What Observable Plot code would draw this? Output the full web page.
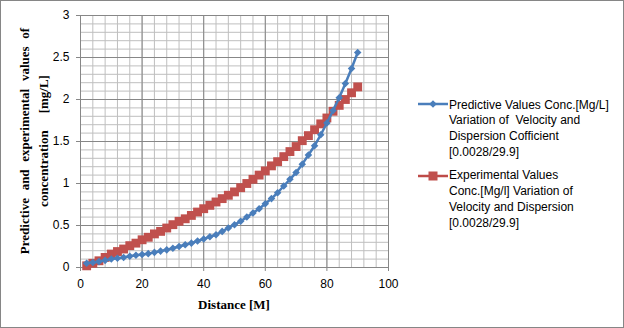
<!DOCTYPE html>
<html>
<head>
<meta charset="utf-8">
<script src="https://cdn.jsdelivr.net/npm/d3@7"></script>
<script src="https://cdn.jsdelivr.net/npm/@observablehq/plot@0.6"></script>
<style>
  html, body { margin: 0; padding: 0; background: #fff; }
  #wrap { position: relative; width: 624px; height: 328px; overflow: hidden; background: #fff; }
  #wrap > svg.chart { position: absolute; left: 0; top: 0; }
  #border { position: absolute; left: 0; top: 0; width: 624px; height: 328px; box-sizing: border-box; border: 1px solid #868686; pointer-events: none; }
  .ytitle { position: absolute; left: 33.5px; top: 141px; width: 260px; transform: translate(-50%, -50%) rotate(-90deg);
    font: bold 13px "Liberation Serif", serif; line-height: 18.5px; text-align: center; white-space: nowrap; color: #000; }
  .xtitle { position: absolute; left: 234px; top: 304px; transform: translate(-50%, -50%);
    font: bold 13px "Liberation Serif", serif; line-height: 15px; white-space: nowrap; color: #000; }
  .leg { position: absolute; left: 449px; font: 12px "Liberation Sans", Arial, sans-serif; line-height: 15.8px; color: #000; white-space: nowrap; }
  #wrap > svg.sw { position: absolute; left: 417px; }
</style>
</head>
<body>
<div id="wrap"></div>
<script>
// ---- data ----
const distance = [2, 4, 6, 8, 10, 12, 14, 16, 18, 20, 22, 24, 26, 28, 30, 32, 34, 36, 38, 40, 42, 44, 46,
  48, 50, 52, 54, 56, 58, 60, 62, 64, 66, 68, 70, 72, 74, 76, 78, 80, 82, 84, 86, 88, 90];
const predicted = [0.05, 0.06, 0.07, 0.085, 0.10, 0.11, 0.12, 0.135, 0.145, 0.155, 0.165, 0.18, 0.195, 0.21, 0.23,
  0.25, 0.27, 0.29, 0.315, 0.34, 0.365, 0.39, 0.43, 0.47, 0.51, 0.55, 0.60, 0.65, 0.70, 0.76,
  0.82, 0.89, 0.97, 1.05, 1.13, 1.23, 1.34, 1.45, 1.58, 1.72, 1.87, 2.02, 2.19, 2.37, 2.56];
const experimental = [0.02, 0.05, 0.08, 0.12, 0.16, 0.19, 0.22, 0.26, 0.29, 0.33, 0.36, 0.40, 0.43, 0.47, 0.51,
  0.55, 0.58, 0.62, 0.66, 0.70, 0.74, 0.78, 0.82, 0.86, 0.90, 0.95, 1.00, 1.05, 1.10, 1.15,
  1.21, 1.26, 1.32, 1.38, 1.44, 1.51, 1.57, 1.64, 1.71, 1.78, 1.86, 1.93, 2.00, 2.08, 2.15];
const xTicks = [0, 20, 40, 60, 80, 100];
const yTicks = [0, 0.5, 1, 1.5, 2, 2.5, 3];
const seriesNames = [
  ["Predictive Values Conc.[Mg/L]", "Variation of  Velocity and", "Dispersion Cofficient", "[0.0028/29.9]"],
  ["Experimental Values", "Conc.[Mg/l] Variation of", "Velocity and Dispersion", "[0.0028/29.9]"]
];
const xTitle = "Distance [M]";
const yTitle = ["Predictive  and  experimental  values  of", "concentration    [mg/L]"];

const blue = "#4A7EBB", red = "#BE4B48";
const predRows = distance.map((d, i) => ({x: d, y: predicted[i]}));
const expRows = distance.map((d, i) => ({x: d, y: experimental[i]}));

const chart = Plot.plot({
  width: 624, height: 328,
  marginLeft: 80, marginRight: 236, marginTop: 15, marginBottom: 61,
  className: "chart",
  style: {fontFamily: "'Liberation Sans', Arial, sans-serif", fontSize: "12px", color: "#000", background: "transparent", overflow: "visible"},
  x: {domain: [0, 100]},
  y: {domain: [0, 3]},
  marks: [
    Plot.gridX({interval: 4, stroke: "#bfbfbf", strokeOpacity: 1}),
    Plot.gridY({interval: 0.1, stroke: "#bfbfbf", strokeOpacity: 1}),
    Plot.gridX(xTicks, {stroke: "#878787", strokeOpacity: 1}),
    Plot.gridY(yTicks, {stroke: "#878787", strokeOpacity: 1}),
    Plot.axisX({ticks: xTicks, tickSize: 4, tickPadding: 8, stroke: "#878787", fill: "#000", label: null, tickFormat: d => String(d)}),
    Plot.axisY({ticks: yTicks, tickSize: 4, tickPadding: 7, stroke: "#878787", fill: "#000", label: null, tickFormat: d => String(d)}),
    Plot.ruleX([0], {stroke: "#878787"}),
    Plot.ruleY([0], {stroke: "#878787"}),
    Plot.line(expRows, {x: "x", y: "y", stroke: red, strokeWidth: 2.5}),
    Plot.dot(expRows, {x: "x", y: "y", symbol: "square", r: 5, fill: "#C0504D", stroke: "none"}),
    Plot.line(predRows, {x: "x", y: "y", stroke: blue, strokeWidth: 2.5}),
    Plot.dot(predRows, {x: "x", y: "y", symbol: "diamond2", r: 3.4, fill: blue, stroke: "none"})
  ]
});
chart.classList.add("chart");

const wrap = document.getElementById("wrap");
wrap.appendChild(chart);

// axis titles
const yt = document.createElement("div");
yt.className = "ytitle";
yt.innerHTML = `<div style="word-spacing:0.6px">${yTitle[0]}</div><div style="word-spacing:1px">${yTitle[1]}</div>`;
yt.style.whiteSpace = "pre";
wrap.appendChild(yt);

const xt = document.createElement("div");
xt.className = "xtitle";
xt.textContent = xTitle;
wrap.appendChild(xt);

// legend
const legTops = [97.5, 168.2];
const swY = [104, 176];
const colors = [blue, red];
seriesNames.forEach((lines, i) => {
  const t = document.createElement("div");
  t.className = "leg";
  t.style.top = legTops[i] + "px";
  t.style.whiteSpace = "pre";
  t.innerHTML = lines.join("<br>");
  wrap.appendChild(t);
  const sw = d3.create("svg").attr("class", "sw").attr("width", 32).attr("height", 12)
    .style("top", (swY[i] - 6) + "px");
  sw.append("line").attr("x1", 1).attr("x2", 31).attr("y1", 6).attr("y2", 6)
    .attr("stroke", colors[i]).attr("stroke-width", 2.5);
  if (i === 0) {
    sw.append("path").attr("d", "M16,2.2L19.8,6L16,9.8L12.2,6Z").attr("fill", blue);
  } else {
    sw.append("rect").attr("x", 11.5).attr("y", 1.5).attr("width", 9).attr("height", 9).attr("fill", "#C0504D");
  }
  wrap.appendChild(sw.node());
});

const b = document.createElement("div");
b.id = "border";
wrap.appendChild(b);
</script>
</body>
</html>
